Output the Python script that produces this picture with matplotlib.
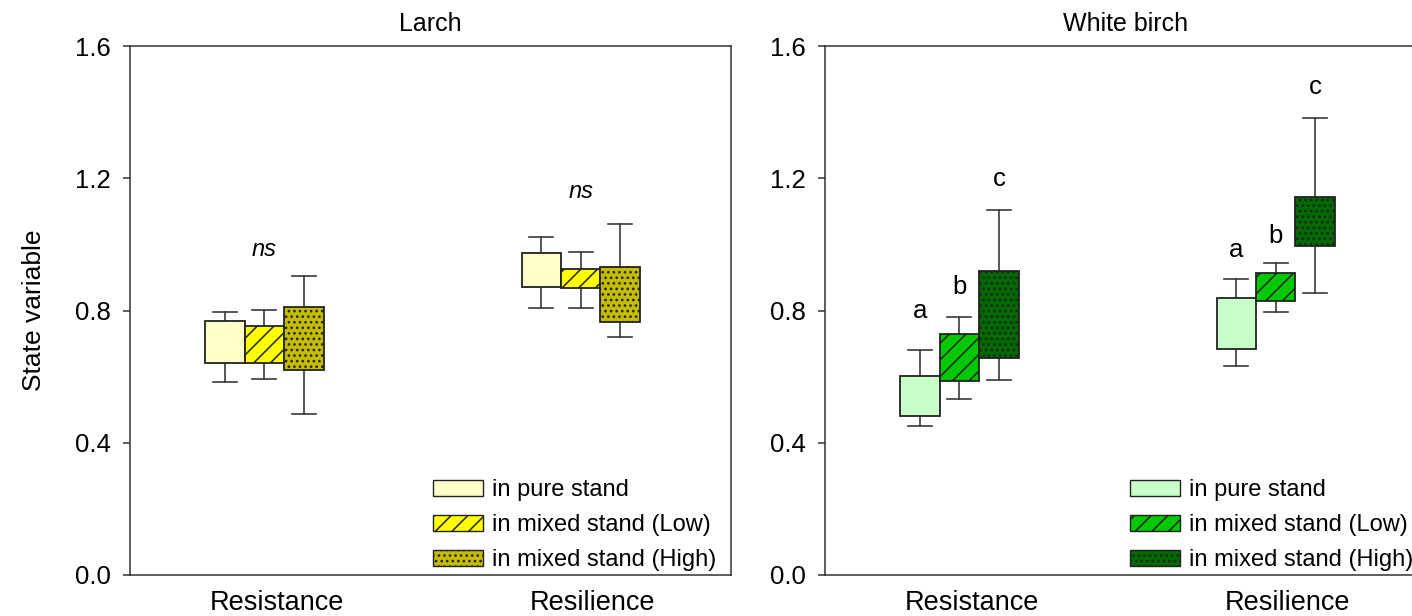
import matplotlib
matplotlib.use("Agg")
import matplotlib.pyplot as plt
from matplotlib.patches import Patch

plt.rcParams['font.family'] = ['Liberation Sans', 'DejaVu Sans']
plt.rcParams['hatch.linewidth'] = 1.1

groups = ['Resistance', 'Resilience']
stands = ['in pure stand', 'in mixed stand (Low)', 'in mixed stand (High)']

# five-number summaries per stand: whisker low, Q1, median, Q3, whisker high
larch_resistance = [[0.585, 0.640, 0.721, 0.769, 0.796],
                    [0.593, 0.640, 0.706, 0.754, 0.801],
                    [0.486, 0.620, 0.693, 0.812, 0.905]]
larch_resilience = [[0.809, 0.872, 0.923, 0.973, 1.023],
                    [0.809, 0.869, 0.897, 0.925, 0.978],
                    [0.721, 0.765, 0.835, 0.933, 1.061]]
birch_resistance = [[0.451, 0.482, 0.521, 0.602, 0.680],
                    [0.533, 0.588, 0.680, 0.729, 0.781],
                    [0.590, 0.657, 0.780, 0.919, 1.104]]
birch_resilience = [[0.632, 0.684, 0.762, 0.839, 0.895],
                    [0.795, 0.830, 0.867, 0.914, 0.943],
                    [0.852, 0.995, 1.044, 1.142, 1.381]]

# significance labels
larch_ns_y = [0.986, 1.16]
birch_letters = ['a', 'b', 'c']
birch_letter_y = [[0.797, 0.872, 1.197], [0.983, 1.026, 1.477]]

larch_colors = ['#FFFFC8', '#FFFF00', '#C4BC00']
birch_colors = ['#C8FFC8', '#00C800', '#006A00']
hatches = ['', '//', '...']

group_x = [0.895, 3.0]
label_x = [0.98, 3.08]
box_w = 0.262


def stats_of(summary, label):
    lo, q1, med, q3, hi = summary
    return dict(whislo=lo, q1=q1, med=med, q3=q3, whishi=hi, fliers=[], label=label)


def draw_panel(ax, data, colors, title):
    for g, grp in enumerate(data):
        pos = [group_x[g] + (i - 1) * box_w for i in range(3)]
        st = [stats_of(s, stands[i]) for i, s in enumerate(grp)]
        bp = ax.bxp(st, positions=pos, widths=box_w, patch_artist=True,
                    showfliers=False, capwidths=0.16, manage_ticks=False,
                    boxprops=dict(linewidth=1.3, edgecolor='#222222'),
                    medianprops=dict(color='#222222', linewidth=1.1),
                    whiskerprops=dict(color='#3a3a3a', linewidth=1.2),
                    capprops=dict(color='#3a3a3a', linewidth=1.2))
        for i, box in enumerate(bp['boxes']):
            box.set_facecolor(colors[i])
            box.set_hatch(hatches[i])
            box.set_zorder(3)
    ax.set_xlim(0, 4)
    ax.set_ylim(0, 1.6)
    ax.set_yticks([0.0, 0.4, 0.8, 1.2, 1.6])
    ax.set_yticklabels(['0.0', '0.4', '0.8', '1.2', '1.6'])
    ax.set_xticks(label_x)
    ax.set_xticklabels(groups)
    ax.tick_params(axis='x', length=0, pad=11, labelsize=19.5)
    ax.tick_params(axis='y', length=5, width=1.1, pad=9, labelsize=18.5, color='#333333')
    for sp in ax.spines.values():
        sp.set_linewidth(1.1)
        sp.set_color('#333333')
    ax.set_title(title, fontsize=18, pad=11)


fig = plt.figure(figsize=(14.12, 6.16), dpi=100)
ax1 = fig.add_axes([130 / 1412, 41 / 616, 601 / 1412, 529 / 616])
ax2 = fig.add_axes([825 / 1412, 41 / 616, 601 / 1412, 529 / 616])

draw_panel(ax1, [larch_resistance, larch_resilience], larch_colors, 'Larch')
draw_panel(ax2, [birch_resistance, birch_resilience], birch_colors, 'White birch')
ax2.spines['right'].set_visible(False)

ax1.set_ylabel('State variable', fontsize=19)
ax1.yaxis.set_label_coords(-0.14, 0.5)

for g in range(2):
    ax1.text(group_x[g], larch_ns_y[g], 'ns', style='italic', fontsize=17,
             ha='center', va='center')
    for i in range(3):
        ax2.text(group_x[g] + (i - 1) * box_w, birch_letter_y[g][i], birch_letters[i],
                 fontsize=18.5, ha='center', va='center')


def add_legend(ax, colors, x0):
    handles = [Patch(facecolor=colors[i], edgecolor='#222222', hatch=hatches[i],
                     linewidth=1.0, label=stands[i]) for i in range(3)]
    ax.legend(handles=handles, loc='upper left',
              bbox_to_anchor=(x0 / 1412, (616 - 479) / 616),
              bbox_transform=fig.transFigure, frameon=False, fontsize=17,
              borderpad=0, borderaxespad=0, handlelength=2.1, handleheight=0.66,
              handletextpad=0.4, labelspacing=0.56)


add_legend(ax1, larch_colors, 433)
add_legend(ax2, birch_colors, 1130)

fig.savefig('out.png', dpi=100)
